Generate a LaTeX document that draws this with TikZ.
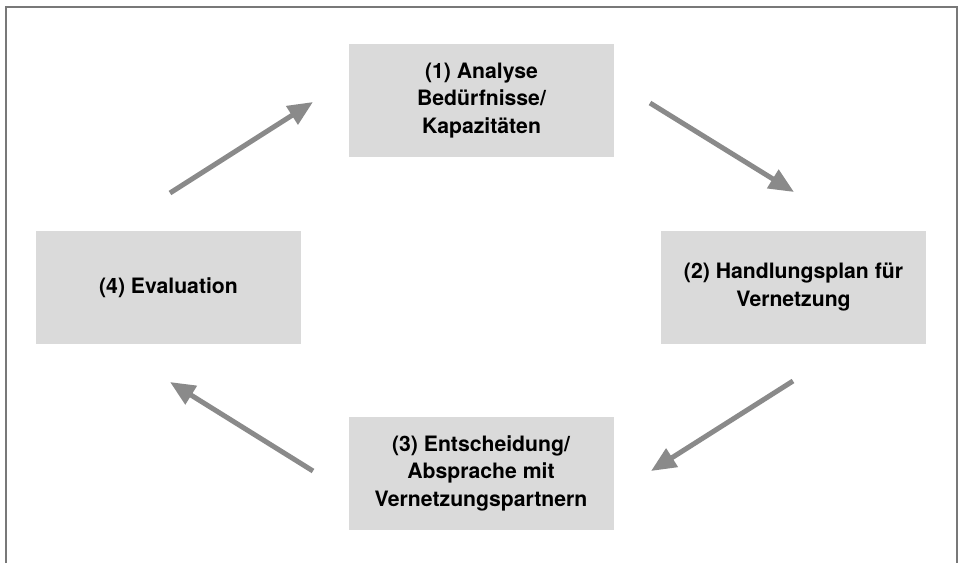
\documentclass[tikz,border=0pt]{standalone}
\usepackage{fontspec}
\setmainfont{TeX Gyre Heros}
\usetikzlibrary{arrows.meta}
\definecolor{boxfill}{RGB}{218,218,218}
\definecolor{arrowgray}{RGB}{138,138,138}
\definecolor{framegray}{RGB}{120,120,120}
\tikzset{
  stepbox/.style={fill=boxfill, draw=none, minimum width=265pt, minimum height=113pt,
    align=center, inner sep=0pt, font=\fontsize{21.2pt}{27.5pt}\selectfont\bfseries},
  cyclearrow/.style={draw=arrowgray, line width=5pt,
    -{Triangle[length=25pt,width=21pt]}},
}
\begin{document}
\begin{tikzpicture}[x=1pt,y=-1pt]
\useasboundingbox (0,0) rectangle (961,563);
\draw[framegray, line width=2pt] (5.5,563) -- (5.5,6.5) -- (956.5,6.5) -- (956.5,563);
\node[stepbox] (s1) at (481.5,100.5) {(1) Analyse\\Bedürfnisse/\\Kapazitäten};
\node[stepbox] (s2) at (793.5,287) {(2) Handlungsplan für\\Vernetzung};
\node[stepbox] (s3) at (481,473) {(3) Entscheidung/\\Absprache mit\\Vernetzungspartnern};
\node[stepbox] (s4) at (168.5,287.5) {(4) Evaluation};
\coordinate (a1s) at (170,193); \coordinate (a1e) at (313,102);
\coordinate (a2s) at (650,103); \coordinate (a2e) at (794,192);
\coordinate (a3s) at (793,381); \coordinate (a3e) at (651,471);
\coordinate (a4s) at (313,471); \coordinate (a4e) at (170,382);
\draw[cyclearrow] (a1s) -- (a1e);
\draw[cyclearrow] (a2s) -- (a2e);
\draw[cyclearrow] (a3s) -- (a3e);
\draw[cyclearrow] (a4s) -- (a4e);
\end{tikzpicture}
\end{document}
